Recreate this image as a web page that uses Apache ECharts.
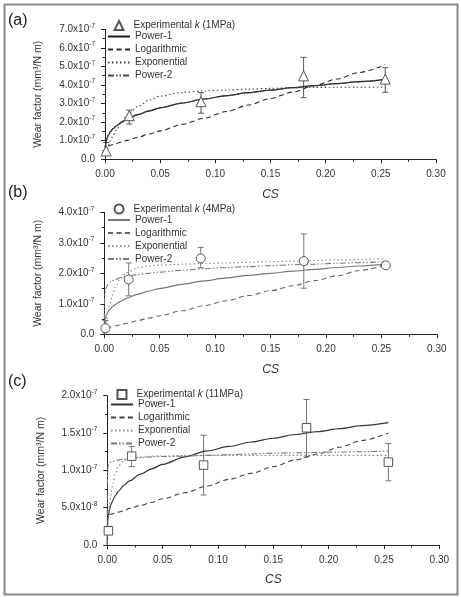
<!DOCTYPE html>
<html>
<head>
<meta charset="utf-8">
<script src="https://cdn.jsdelivr.net/npm/echarts@6/dist/echarts.min.js"></script>
<style>html,body{margin:0;padding:0;background:#fff}#c{width:461px;height:597px}</style>
</head>
<body>
<div id="c"></div>
<script>
// ---------- DATA (wear factor in units of 1e-7 mm^3/N m) ----------
const xTicks = ['0.00', '0.05', '0.10', '0.15', '0.20', '0.25', '0.30'];
const yTicksA = ['0.0', '1.0x10^-7', '2.0x10^-7', '3.0x10^-7', '4.0x10^-7', '5.0x10^-7', '6.0x10^-7', '7.0x10^-7'];
const yTicksB = ['0.0', '1.0x10^-7', '2.0x10^-7', '3.0x10^-7', '4.0x10^-7'];
const yTicksC = ['0.0', '5.0x10^-8', '1.0x10^-7', '1.5x10^-7', '2.0x10^-7'];

const csPoints = [0.001, 0.022, 0.087, 0.18, 0.254];
const kA = [0.45, 2.35, 3.10, 4.49, 4.32];
const kALow = [0.32, 1.90, 2.48, 3.32, 3.61];
const kAHigh = [0.90, 2.65, 3.59, 5.49, 4.93];
const kB = [0.20, 1.80, 2.49, 2.40, 2.26];
const kBLow = [0.05, 1.26, 2.18, 1.51, 2.20];
const kBHigh = [0.45, 2.34, 2.85, 3.29, 2.32];
const kC = [0.19, 1.19, 1.07, 1.57, 1.11];
const kCLow = [0.14, 1.05, 0.67, 1.18, 0.86];
const kCHigh = [0.25, 1.32, 1.47, 1.95, 1.36];

const curveX = [0, 0.0001, 0.0005, 0.001, 0.002, 0.003, 0.005, 0.0075, 0.01, 0.015, 0.02, 0.03, 0.04, 0.05, 0.07, 0.09, 0.11, 0.13, 0.15, 0.17, 0.19, 0.21, 0.23, 0.254];

const power1A = [null, 0.62, 0.80, 0.96, 1.16, 1.30, 1.49, 1.66, 1.79, 2.00, 2.16, 2.41, 2.61, 2.77, 3.03, 3.25, 3.43, 3.59, 3.73, 3.86, 3.97, 4.08, 4.18, 4.30];
const logA = [null, null, null, null, null, 0.72, 0.76, 0.80, 0.85, 0.93, 1.02, 1.19, 1.36, 1.53, 1.88, 2.22, 2.57, 2.92, 3.27, 3.62, 3.97, 4.32, 4.67, 5.10];
const expA = [null, null, 0.35, 0.45, 0.60, 0.75, 1.00, 1.30, 1.55, 1.98, 2.40, 2.85, 3.18, 3.40, 3.60, 3.68, 3.73, 3.78, 3.82, 3.85, 3.87, 3.88, 3.88, 3.88];
const power2A = [null, 0.64, 0.82, 0.98, 1.17, 1.31, 1.50, 1.67, 1.80, 2.01, 2.17, 2.42, 2.61, 2.77, 3.03, 3.24, 3.42, 3.58, 3.72, 3.85, 3.96, 4.07, 4.17, 4.29];

const power1B = [0, 0.29, 0.45, 0.54, 0.64, 0.72, 0.82, 0.91, 0.98, 1.09, 1.18, 1.31, 1.42, 1.50, 1.64, 1.75, 1.85, 1.93, 2.00, 2.07, 2.13, 2.19, 2.24, 2.30];
const logB = [null, null, null, null, 0.22, 0.22, 0.24, 0.26, 0.28, 0.32, 0.36, 0.45, 0.53, 0.61, 0.77, 0.94, 1.10, 1.27, 1.43, 1.59, 1.76, 1.92, 2.09, 2.28];
const expB = [null, null, 0.12, 0.25, 0.45, 0.65, 0.98, 1.30, 1.55, 1.85, 2.02, 2.18, 2.24, 2.27, 2.30, 2.32, 2.34, 2.36, 2.38, 2.40, 2.42, 2.44, 2.46, 2.48];
const power2B = [0, 1.00, 1.30, 1.45, 1.55, 1.62, 1.70, 1.76, 1.80, 1.86, 1.90, 1.96, 2.00, 2.04, 2.10, 2.15, 2.19, 2.22, 2.25, 2.28, 2.30, 2.33, 2.35, 2.38];

const power1C = [0, 0.22, 0.34, 0.40, 0.48, 0.53, 0.60, 0.67, 0.72, 0.80, 0.86, 0.95, 1.02, 1.08, 1.18, 1.26, 1.32, 1.38, 1.43, 1.48, 1.52, 1.56, 1.60, 1.64];
const logC = [null, null, null, null, 0.41, 0.41, 0.42, 0.43, 0.44, 0.46, 0.49, 0.53, 0.57, 0.62, 0.70, 0.79, 0.88, 0.96, 1.05, 1.14, 1.22, 1.31, 1.40, 1.50];
const expC = [null, null, null, 0.45, 0.55, 0.65, 0.82, 0.97, 1.06, 1.13, 1.16, 1.18, 1.19, 1.19, 1.20, 1.20, 1.20, 1.20, 1.20, 1.20, 1.20, 1.20, 1.20, 1.20];
const power2C = [0, 0.90, 1.04, 1.08, 1.10, 1.11, 1.12, 1.13, 1.14, 1.15, 1.16, 1.17, 1.18, 1.185, 1.19, 1.20, 1.21, 1.22, 1.23, 1.235, 1.24, 1.245, 1.25, 1.26];

// ---------- BUILD ----------
const FONT = 'Liberation Sans, Arial, sans-serif';
const pair = (xs, ys) => xs.map((x, i) => [x, ys[i]]);
const bars = (xs, lo, hi) => xs.map((x, i) => [x, lo[i], hi[i]]);

function yFmt(labels) {
  return (v, i) => {
    const s = labels[i];
    if (s === undefined) return '';
    const parts = s.split('^');
    return parts[1] ? '{m|' + parts[0] + '}{s|' + parts[1] + '}' : '{m|' + parts[0] + '}';
  };
}

const panels = [
  {id: 'a', grid: {left: 105, top: 29.3, width: 331, height: 130}, max: 7, interval: 1, ticks: yTicksA,
   k: kA, lo: kALow, hi: kAHigh, mpa: '1MPa', symbol: 'triangle', symbolSize: 10,
   curves: [power1A, logA, expA, power2A],
   colors: ['#1a1a1a', '#2a2a2a', '#444', '#444'], barColor: '#555', expTop: 20, lineTop: 31.5, legendLeft: 107},
  {id: 'b', grid: {left: 104.3, top: 212.3, width: 332.5, height: 122}, max: 4, interval: 1, ticks: yTicksB,
   k: kB, lo: kBLow, hi: kBHigh, mpa: '4MPa', symbol: 'circle', symbolSize: 9,
   curves: [power1B, logB, expB, power2B],
   colors: ['#777', '#666', '#888', '#777'], barColor: '#777', expTop: 203.5, lineTop: 215, legendLeft: 107},
  {id: 'c', grid: {left: 107.3, top: 395.7, width: 332, height: 149.3}, max: 2, interval: 0.5, ticks: yTicksC,
   k: kC, lo: kCLow, hi: kCHigh, mpa: '11MPa', symbol: 'rect', symbolSize: 8.5,
   curves: [power1C, logC, expC, power2C],
   colors: ['#333', '#444', '#888', '#777'], barColor: '#777', expTop: 389, lineTop: 399.5, legendLeft: 110}
];

const curveNames = ['Power-1', 'Logarithmic', 'Exponential', 'Power-2'];
const dashes = ['solid', [5, 3.5], [1.5, 2.5], [6, 2, 1.5, 2, 1.5, 2]];

const grids = [], xAxes = [], yAxes = [], series = [], legends = [], titles = [];
const legendText = {fontFamily: FONT, fontSize: 10, color: '#333', lineHeight: 10};
panels.forEach((p, gi) => {
  grids.push(p.grid);
  xAxes.push({
    type: 'value', gridIndex: gi, min: 0, max: 0.3, interval: 0.05,
    name: 'CS', nameLocation: 'middle', nameGap: 29,
    nameTextStyle: {fontFamily: FONT, fontSize: 12, fontStyle: 'italic', color: '#333'},
    axisLine: {show: true, onZero: false, lineStyle: {color: '#222', width: 1}},
    axisTick: {show: true, inside: false, length: 4, lineStyle: {color: '#222'}},
    minorTick: {show: true, splitNumber: 2, length: 2.5, lineStyle: {color: '#222'}},
    splitLine: {show: false},
    axisLabel: {margin: 10, fontFamily: FONT, fontSize: 10, color: '#333',
      formatter: (v, i) => xTicks[i] !== undefined ? xTicks[i] : ''}
  });
  yAxes.push({
    type: 'value', gridIndex: gi, min: 0, max: p.max, interval: p.interval,
    name: 'Wear factor (mm³/N m)', nameLocation: 'middle', nameGap: 61,
    nameTextStyle: {fontFamily: FONT, fontSize: 10.5, color: '#333'},
    axisLine: {show: true, onZero: false, lineStyle: {color: '#222', width: 1}},
    axisTick: {show: true, inside: false, length: 4, lineStyle: {color: '#222'}},
    minorTick: {show: true, splitNumber: 2, length: 2.5, lineStyle: {color: '#222'}},
    splitLine: {show: false},
    axisLabel: {margin: 10, formatter: yFmt(p.ticks),
      rich: {
        m: {fontFamily: FONT, fontSize: 10, color: '#333', lineHeight: 14, verticalAlign: 'middle'},
        s: {fontFamily: FONT, fontSize: 6.5, color: '#333', lineHeight: 7, verticalAlign: 'top'}
      }}
  });
  titles.push({text: '(' + p.id + ')', left: 8, top: [13, 185, 374][gi], padding: 0,
    textStyle: {fontFamily: FONT, fontSize: 16, fontWeight: 'normal', color: '#222'}});

  const expName = p.id + '|exp';
  series.push({
    type: 'custom', name: p.id + '|err', xAxisIndex: gi, yAxisIndex: gi, z: 3,
    data: bars(csPoints, p.lo, p.hi), encode: {x: 0, y: [1, 2]},
    renderItem: (params, api) => {
      const x = api.value(0);
      const a = api.coord([x, api.value(1)]);
      const b = api.coord([x, api.value(2)]);
      const st = {stroke: p.barColor, lineWidth: 1};
      return {type: 'group', children: [
        {type: 'line', shape: {x1: a[0], y1: a[1], x2: b[0], y2: b[1]}, style: st},
        {type: 'line', shape: {x1: a[0] - 3, y1: a[1], x2: a[0] + 3, y2: a[1]}, style: st},
        {type: 'line', shape: {x1: b[0] - 3, y1: b[1], x2: b[0] + 3, y2: b[1]}, style: st}
      ]};
    }
  });
  series.push({
    type: 'scatter', name: expName, xAxisIndex: gi, yAxisIndex: gi, z: 6,
    symbol: p.symbol, symbolSize: p.symbolSize,
    itemStyle: {color: '#fff', borderColor: '#555', borderWidth: 1, opacity: 1},
    data: pair(csPoints, p.k)
  });
  const lineNames = [];
  p.curves.forEach((ys, ci) => {
    const nm = p.id + '|' + curveNames[ci];
    lineNames.push({name: nm, itemStyle: {opacity: 0}});
    series.push({
      type: 'line', name: nm, xAxisIndex: gi, yAxisIndex: gi, z: 4,
      showSymbol: false, symbol: 'none', smooth: 0.3, smoothMonotone: 'x',
      lineStyle: {color: p.colors[ci], width: ci === 0 ? 1.2 : 1.1, type: dashes[ci]},
      itemStyle: {color: p.colors[ci]},
      data: pair(curveX, ys)
    });
  });
  // legend for experimental points (square icon box so the symbol keeps its shape)
  legends.push({
    data: [expName], orient: 'vertical', left: p.legendLeft + 6.5, top: p.expTop,
    itemWidth: 9, itemHeight: 9, padding: 0, selectedMode: false,
    textStyle: Object.assign({}, legendText, {
      rich: {sp: {width: 5}, i: {fontFamily: FONT, fontSize: 10, fontStyle: 'italic', color: '#333'},
             t: {fontFamily: FONT, fontSize: 10, color: '#333'}}}),
    formatter: () => '{sp|}{t|Experimental }{i|k}{t| (' + p.mpa + ')}'
  });
  // legend for fitted curves
  legends.push({
    data: lineNames, orient: 'vertical', left: p.legendLeft, top: p.lineTop,
    itemWidth: 22, itemHeight: 9, itemGap: 3, padding: 0, selectedMode: false,
    textStyle: legendText,
    formatter: (name) => name.split('|')[1]
  });
});

const chart = echarts.init(document.getElementById('c'), null, {renderer: 'canvas'});
chart.setOption({
  animation: false,
  backgroundColor: '#fff',
  title: titles,
  grid: grids,
  xAxis: xAxes,
  yAxis: yAxes,
  legend: legends,
  series: series,
  graphic: [{type: 'rect', shape: {x: 4.5, y: 4.5, width: 453, height: 590},
    style: {fill: 'none', stroke: '#8a8a8a', lineWidth: 2}, silent: true}]
});
</script>
</body>
</html>
